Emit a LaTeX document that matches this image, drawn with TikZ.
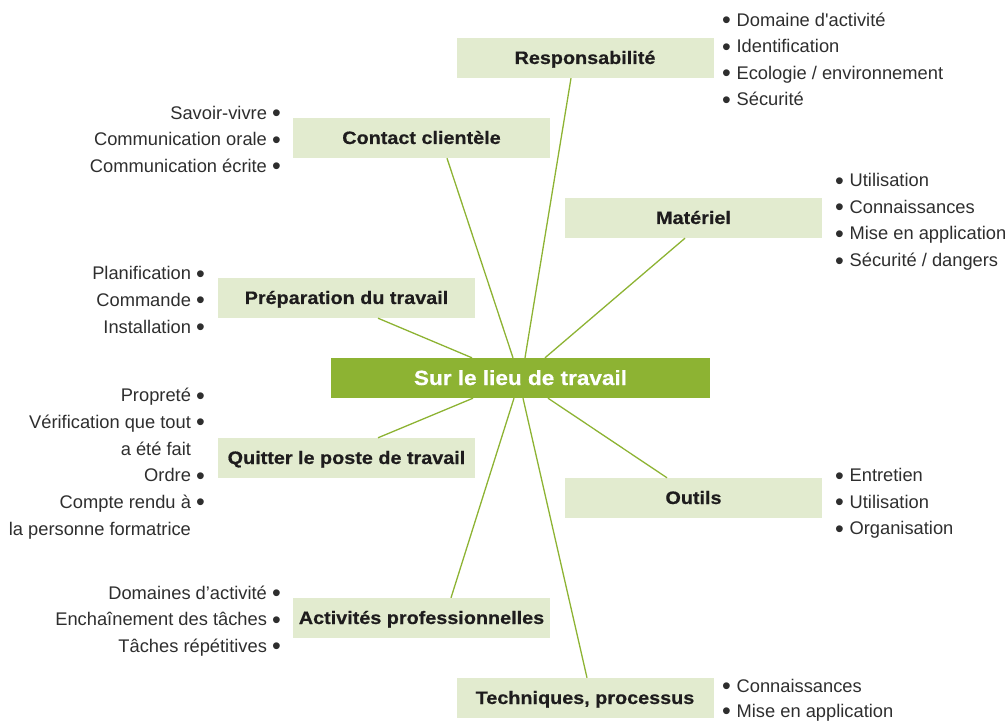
\documentclass[tikz,border=0pt]{standalone}
\usepackage{fontspec}
\setmainfont{Liberation Sans}
\newfontface\boxfont[FakeStretch=1.1,FakeBold=0.5]{Liberation Sans Bold}
\usetikzlibrary{calc}
\definecolor{boxgreen}{HTML}{E2EBCF}
\definecolor{hubgreen}{HTML}{8DB333}
\definecolor{labelc}{HTML}{1E1C1D}
\definecolor{itemc}{HTML}{2E2E2E}
\newcommand\bul{\raisebox{-2.4pt}{\fontsize{25}{20}\selectfont •}}
\tikzset{
  sub/.style={fill=boxgreen, minimum width=257pt, minimum height=40pt, inner sep=0pt,
    text height=12pt, text depth=0pt, font=\boxfont\fontsize{18}{20}\selectfont, text=labelc},
  hub/.style={fill=hubgreen, minimum width=379pt, minimum height=40pt, inner sep=0pt,
    text height=14pt, text depth=0pt, font=\boxfont\fontsize{20.5}{22}\selectfont, text=white},
  link/.style={draw=hubgreen, line width=1.3pt},
  itemR/.style={anchor=base west, inner sep=0pt, font=\fontsize{18.3}{20}\selectfont, text=itemc},
  itemL/.style={anchor=base east, inner sep=0pt, font=\fontsize{18.3}{20}\selectfont, text=itemc}
}
\begin{document}
\begin{tikzpicture}[x=1pt,y=-1pt]
\useasboundingbox (0,0) rectangle (1005,722);
% boxes
\node[hub] (hub) at (520.5,378) {Sur le lieu de travail};
\node[sub] (resp) at (585,58) {Responsabilité};
\node[sub] (contact) at (421.5,138) {Contact clientèle};
\node[sub] (mat) at (693.5,218) {Matériel};
\node[sub] (prep) at (346.5,298) {Préparation du travail};
\node[sub] (quit) at (346.5,458) {Quitter le poste de travail};
\node[sub] (outils) at (693.5,498) {Outils};
\node[sub] (act) at (421.5,618) {Activités professionnelles};
\node[sub] (tech) at (585,698) {Techniques, processus};
% connectors
\draw[link] ($(resp.south)+(-14,0)$) -- ($(hub.north)+(4.5,0)$);
\draw[link] ($(contact.south)+(25.5,0)$) -- ($(hub.north)+(-7.5,0)$);
\draw[link] ($(mat.south)+(-8.5,0)$) -- ($(hub.north)+(24.5,0)$);
\draw[link] ($(prep.south)+(31.5,0)$) -- ($(hub.north)+(-48.5,0)$);
\draw[link] ($(hub.south)+(-47.5,0)$) -- ($(quit.north)+(31.5,0)$);
\draw[link] ($(hub.south)+(-6.5,0)$) -- ($(act.north)+(29.5,0)$);
\draw[link] ($(hub.south)+(2.5,0)$) -- ($(tech.north)+(2,0)$);
\draw[link] ($(hub.south)+(27.5,0)$) -- ($(outils.north)+(-26.5,0)$);
% Responsabilité list
\node[itemR] (r1) at (722,26.5) {\bul\ \hspace{0.6pt}Domaine d\textquotesingle activité};
\node[itemR] (r2) at (722,53) {\bul\ \hspace{0.6pt}Identification};
\node[itemR] (r3) at (722,79.5) {\bul\ \hspace{0.6pt}Ecologie / environnement};
\node[itemR] (r4) at (722,106) {\bul\ \hspace{0.6pt}Sécurité};
% Matériel list
\node[itemR] (m1) at (835,186.7) {\bul\ \hspace{0.6pt}Utilisation};
\node[itemR] (m2) at (835,213.3) {\bul\ \hspace{0.6pt}Connaissances};
\node[itemR] (m3) at (835,240) {\bul\ \hspace{0.6pt}Mise en application};
\node[itemR] (m4) at (835,266.7) {\bul\ \hspace{0.6pt}Sécurité / dangers};
% Outils list
\node[itemR] (o1) at (835,481.7) {\bul\ \hspace{0.6pt}Entretien};
\node[itemR] (o2) at (835,508.2) {\bul\ \hspace{0.6pt}Utilisation};
\node[itemR] (o3) at (835,534.7) {\bul\ \hspace{0.6pt}Organisation};
% Techniques list
\node[itemR] (t1) at (722,692.5) {\bul\ \hspace{0.6pt}Connaissances};
\node[itemR] (t2) at (722,717.5) {\bul\ \hspace{0.6pt}Mise en application};
% Contact list
\node[itemL] (c1) at (281,119.3) {Savoir-vivre \bul};
\node[itemL] (c2) at (281,145.8) {Communication orale \bul};
\node[itemL] (c3) at (281,172.3) {Communication écrite \bul};
% Préparation list
\node[itemL] (p1) at (205,280) {Planification \bul};
\node[itemL] (p2) at (205,306.6) {Commande \bul};
\node[itemL] (p3) at (205,333.2) {Installation \bul};
% Quitter list
\node[itemL] (q1) at (205,401.6) {Propreté \bul};
\node[itemL] (q2) at (205,428.3) {Vérification que tout \bul};
\node[itemL] (q3) at (205,455) {a été fait \phantom{\bul}};
\node[itemL] (q4) at (205,481.6) {Ordre \bul};
\node[itemL] (q5) at (205,508.3) {Compte rendu à \bul};
\node[itemL] (q6) at (205,535) {la personne formatrice \phantom{\bul}};
% Activités list
\node[itemL] (a1) at (281,599) {Domaines d’activité \bul};
\node[itemL] (a2) at (281,625.6) {Enchaînement des tâches \bul};
\node[itemL] (a3) at (281,652.2) {Tâches répétitives \bul};
\end{tikzpicture}
\end{document}
